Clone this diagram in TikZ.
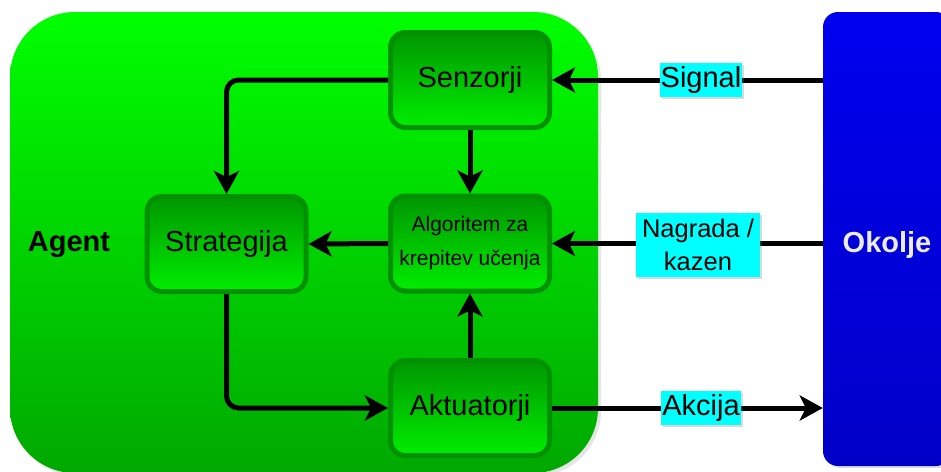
\documentclass[tikz,border=0pt]{standalone}
\usepackage{fontspec}
\setmainfont{Liberation Sans}
\usetikzlibrary{arrows.meta,shadows}
\definecolor{agtop}{RGB}{0,255,0}
\definecolor{agbot}{RGB}{0,168,0}
\definecolor{bxtop}{RGB}{0,150,0}
\definecolor{bxbot}{RGB}{0,238,0}
\definecolor{bxline}{RGB}{0,145,0}
\definecolor{oktop}{RGB}{0,0,238}
\definecolor{okbot}{RGB}{0,0,200}
\definecolor{lbl}{RGB}{0,255,255}
\definecolor{oktext}{RGB}{235,235,235}
\tikzset{
  inbox/.style={draw=bxline, line width=5pt, rounded corners=15pt, top color=bxtop, bottom color=bxbot,
    minimum width=159pt, minimum height=95pt, align=center, font=\fontsize{29}{34}\selectfont,
    drop shadow={opacity=0.2, shadow xshift=2pt, shadow yshift=-2pt}},
  lblbox/.style={fill=lbl, inner sep=1pt, align=center,
    drop shadow={opacity=0.3, shadow xshift=2pt, shadow yshift=-2pt}},
  arr/.style={line width=5pt, -{Stealth[length=23pt,width=25pt,inset=6pt]}}
}
\begin{document}
\begin{tikzpicture}[x=1pt,y=-1pt]
\useasboundingbox (0,0) rectangle (941,471);
\clip (0,0) rectangle (941,471);
% Agent area
\path[fill=gray!40, opacity=0.5, rounded corners=65pt] (13,15) rectangle (601,476);
\path[top color=agtop, bottom color=agbot, rounded corners=65pt] (10,12) rectangle (598,473);
% Okolje
\node[draw=none, top color=oktop, bottom color=okbot, rounded corners=15pt, minimum width=128pt, minimum height=454pt, inner sep=0pt, drop shadow={opacity=0.25, shadow xshift=2pt, shadow yshift=-2pt}] (oko) at (887,239) {};
\node[text=oktext, font=\bfseries\fontsize{29}{34}\selectfont] (okt) at (887,245) {Okolje};
\node[font=\bfseries\fontsize{29}{34}\selectfont] (agt) at (69,245) {Agent};
% inner boxes
\node[inbox] (sen) at (470,80) {Senzorji};
\node[inbox, font=\fontsize{21}{34}\selectfont] (alg) at (470,243.5) {Algoritem za\\krepitev učenja};
\node[inbox] (str) at (226.5,244) {Strategija};
\node[inbox] (akt) at (470,408) {Aktuatorji};
% connectors
\draw[arr, rounded corners=12pt] (sen.west) -| (str.north);
\draw[arr] (sen.south) -- (alg.north);
\draw[arr] (alg.west) -- (str.east);
\draw[arr, rounded corners=12pt] (str.south) |- (akt.west);
\draw[arr] (akt.north) -- (alg.south);
\coordinate (sigsrc) at (sen.east -| oko.west);
\coordinate (nagsrc) at (alg.east -| oko.west);
\coordinate (akdst) at (akt.east -| oko.west);
\draw[arr] (sigsrc) -- (sen.east);
\draw[arr] (nagsrc) -- (alg.east);
\draw[arr] (akt.east) -- (akdst);
% labels
\node[lblbox, font=\fontsize{29}{34}\selectfont, minimum width=82pt, minimum height=34pt] (sig) at (701,80) {Signal};
\node[lblbox, font=\fontsize{25.5}{33}\selectfont, minimum width=124pt, minimum height=64pt] (nag) at (698,245) {Nagrada /\\kazen};
\node[lblbox, font=\fontsize{29}{34}\selectfont, minimum width=80pt, minimum height=34pt] (akc) at (701,408) {Akcija};
\end{tikzpicture}
\end{document}
